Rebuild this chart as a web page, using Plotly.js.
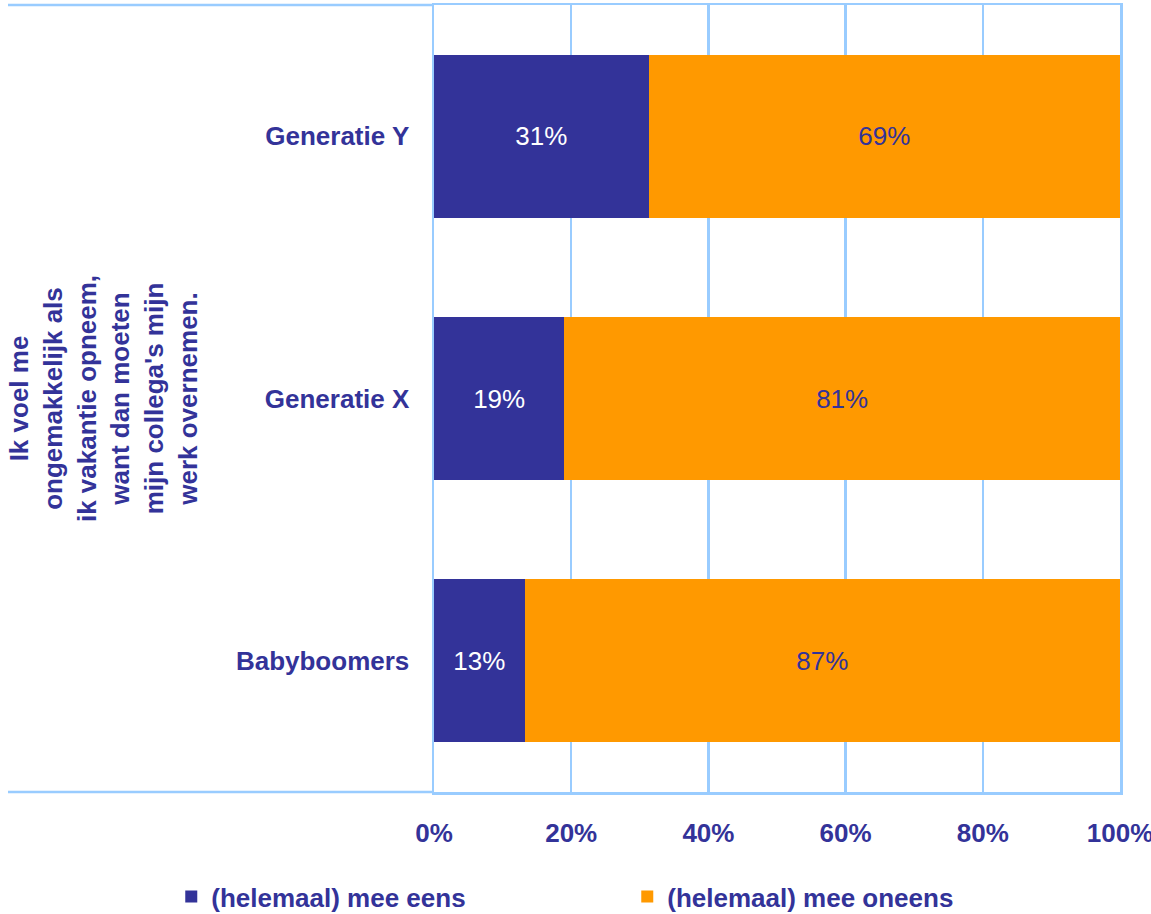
<!DOCTYPE html>
<html>
<head>
<meta charset="utf-8">
<script src="https://cdn.plot.ly/plotly-3.0.1.min.js"></script>
<style>html,body{margin:0;padding:0;background:#fff;}</style>
</head>
<body>
<div id="chart" style="width:1151px;height:914px;"></div>
<script>
const categories = ["Generatie Y", "Generatie X", "Babyboomers"];
const meeEens = [31.3, 19, 13.2];
const meeOneens = [68.7, 81, 86.8];
const seriesNames = ["(helemaal) mee eens", "(helemaal) mee oneens"];
const xTickValues = [0, 20, 40, 60, 80, 100];
const xTickLabels = ["0%", "20%", "40%", "60%", "80%", "100%"];
const axisTitle = "Ik voel me<br>ongemakkelijk als<br>ik vakantie opneem,<br>want dan moeten<br>mijn collega's mijn<br>werk overnemen.";

const navy = "#333399";
const orange = "#FF9900";
const grid = "#99CCFF";
const fam = "Arial, 'Liberation Sans', sans-serif";

const traces = [
  {
    type: "bar", orientation: "h", name: seriesNames[0],
    y: categories, x: meeEens,
    marker: {color: navy},
    text: meeEens.map(v => Math.round(v) + "%"),
    textposition: "inside", insidetextanchor: "middle", textangle: 0,
    constraintext: "none",
    textfont: {family: fam, size: 26, color: "#FFFFFF"},
    hoverinfo: "none"
  },
  {
    type: "bar", orientation: "h", name: seriesNames[1],
    y: categories, x: meeOneens,
    marker: {color: orange},
    text: meeOneens.map(v => Math.round(v) + "%"),
    textposition: "inside", insidetextanchor: "middle", textangle: 0,
    constraintext: "none",
    textfont: {family: fam, size: 26, color: navy},
    hoverinfo: "none"
  }
];

const layout = {
  width: 1151, height: 914,
  margin: {l: 434, r: 31, t: 5, b: 122, pad: 0, autoexpand: false},
  barmode: "stack",
  bargap: 0.378,
  paper_bgcolor: "#FFFFFF", plot_bgcolor: "#FFFFFF",
  font: {family: fam, color: navy},
  showlegend: true,
  legend: {
    orientation: "h", xref: "paper", yref: "paper",
    x: -0.383, y: -0.103, xanchor: "left", yanchor: "top",
    entrywidth: 411, entrywidthmode: "pixels",
    font: {family: fam, size: 26, color: navy, weight: "bold"},
    traceorder: "normal", bgcolor: "rgba(0,0,0,0)"
  },
  xaxis: {
    range: [0, 100], tickvals: xTickValues, ticktext: xTickLabels,
    showgrid: true, gridcolor: grid, gridwidth: 2.5,
    zeroline: false, showline: true, mirror: true, linecolor: grid, linewidth: 2.5,
    ticks: "", ticklabelstandoff: 16, ticklabeloverflow: "allow",
    tickfont: {family: fam, size: 26, color: navy, weight: "bold"},
    automargin: false,
    fixedrange: true
  },
  yaxis: {
    type: "category", categoryorder: "array", categoryarray: categories,
    autorange: "reversed",
    showgrid: false, zeroline: false,
    showline: true, mirror: true, linecolor: grid, linewidth: 2.5,
    ticks: "", ticklabelstandoff: 17,
    tickfont: {family: fam, size: 26, color: navy, weight: "bold"},
    title: {text: axisTitle, standoff: 31, font: {family: fam, size: 26, color: navy, weight: "bold"}},
    automargin: false,
    fixedrange: true
  },
  shapes: [
    {type: "line", xref: "paper", yref: "paper", x0: -0.621, x1: 0, y0: 1, y1: 1, line: {color: grid, width: 2.5}},
    {type: "line", xref: "paper", yref: "paper", x0: -0.621, x1: 0, y0: 0, y1: 0, line: {color: grid, width: 2.5}}
  ]
};

Plotly.newPlot("chart", traces, layout, {displayModeBar: false, staticPlot: true});
</script>
</body>
</html>
